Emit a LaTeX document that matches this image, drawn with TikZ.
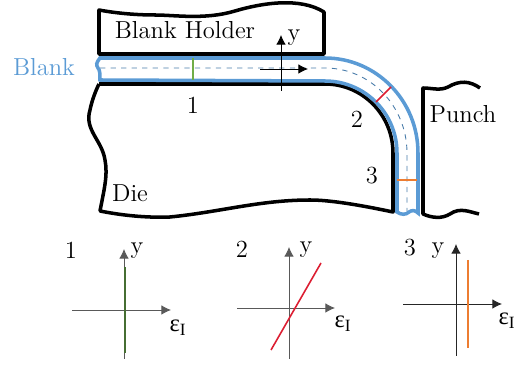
\documentclass[tikz,border=0pt]{standalone}
\usepackage{fontspec}
\usetikzlibrary{arrows.meta}
\newfontfamily\greekfont{Liberation Serif}
\definecolor{blankblue}{RGB}{91,155,213}
\definecolor{strainA}{RGB}{112,173,71}
\definecolor{strainB}{RGB}{220,30,50}
\definecolor{strainC}{RGB}{237,125,49}
\definecolor{strainAdark}{RGB}{70,110,50}
\tikzset{
    tool/.style={line width=2pt,black,line join=round},
    blank/.style={line width=2pt,blankblue},
    midline/.style={line width=0.5pt,blankblue!80!black,dashed},
    axis/.style={line width=0.5pt,black!65,-{Latex[length=5.5pt,width=5.5pt]}},
    lbl/.style={font=\fontsize{14}{16}\selectfont,inner sep=0pt,black},
    strain/.style={font=\greekfont\fontsize{14}{16}\selectfont,inner sep=0pt,black}
}
\begin{document}
\begin{tikzpicture}[x=0.02cm,y=0.02cm]
    \useasboundingbox (0,0) rectangle (515,365);
    % tools
    \draw[tool] (324,353) .. controls (300,368) and (262,362) .. (235,354)
        .. controls (205,345) and (175,350) .. (155,350)
        .. controls (135,350) and (115,352) .. (99,355)
        -- (99,311) -- (324,311) -- cycle;
    \draw[tool] (99,281) -- (325,281) arc[start angle=90,end angle=0,x radius=68,y radius=69]
        -- (393,153) .. controls (360,160) and (330,165) .. (310,165)
        .. controls (260,165) and (220,153) .. (170,148)
        .. controls (145,147) and (120,150) .. (100,154)
        .. controls (104,175) and (108,190) .. (105,205)
        .. controls (102,225) and (84,235) .. (90,255)
        .. controls (92,265) and (96,275) .. (99,281);
    \draw[tool] (480,277) .. controls (470,284) and (460,285) .. (448,278)
        .. controls (440,274) and (432,277) .. (423,277)
        -- (423,151) .. controls (432,147) and (442,146) .. (450,151)
        .. controls (460,158) and (470,153) .. (479,151);
    % blank
    \draw[blank] (325,307) -- (100,307)
        .. controls (96,302) and (96,300) .. (98,297)
        .. controls (100,295) and (100,290) .. (100,285)
        -- (325,284) arc[start angle=90,end angle=0,x radius=72,y radius=72]
        -- (397,153) .. controls (401,150) and (406,150) .. (409,153)
        .. controls (412,155) and (415,155) .. (418,152)
        -- (418,212);
    \draw[blank] (325,307) arc[start angle=90,end angle=0,x radius=93,y radius=95];
    \draw[midline] (100,297) -- (325,297) arc[start angle=90,end angle=0,x radius=82,y radius=85] -- (407,154);
    % cuts
    \draw[strainA,line width=0.9pt] (193,307) -- (193,285);
    \draw[strainB,line width=0.9pt] (376,263) -- (391,278);
    \draw[strainC,line width=0.9pt] (397,185) -- (417,185);
    % local axes
    \coordinate (yb) at (281,274);
    \coordinate (yt) at (281,330);
    \coordinate (xl) at (260,296);
    \coordinate (xr) at (308,296);
    \draw[axis,black] (yb) -- (yt);
    \draw[axis,black] (xl) -- (xr);
    \node[lbl] (yy) at (294,327) {y};
    \node[lbl,text=blankblue] (blanktext) at (44,298) {Blank};
    \node[lbl] (holder) at (185,335) {Blank Holder};
    \node[lbl] (punch) at (463,251) {Punch};
    \node[lbl] (die) at (130,172) {Die};
    \node[lbl] (one) at (193,260) {1};
    \node[lbl] (two) at (357,246) {2};
    \node[lbl] (three) at (372,189) {3};
    % plots
    \foreach \n/\xl/\xr/\xo/\yb/\yt/\yo/\gray in {1/72/171/124/6/116/55/65,2/237/335/289/6/118/57/65,3/403/502/456/9/121/61/85}{
        \coordinate (l\n) at (\xl,\yo);
        \coordinate (r\n) at (\xr,\yo);
        \coordinate (b\n) at (\xo,\yb);
        \coordinate (t\n) at (\xo,\yt);
        \draw[axis,black!\gray] (l\n) -- (r\n);
        \draw[axis,black!\gray] (b\n) -- (t\n);
    }
    \draw[strainAdark,line width=0.9pt] (125,98) -- (125,12);
    \draw[strainB,line width=0.9pt] (271,15) -- (321,102);
    \draw[strainC,line width=0.9pt] (468,105) -- (468,17);
    \node[lbl] (n1) at (71,115) {1};
    \node[lbl] (n2) at (242,116) {2};
    \node[lbl] (n3) at (410,117) {3};
    \node[lbl] (y1) at (137,114) {y};
    \node[lbl] (y2) at (306,115) {y};
    \node[lbl] (y3) at (438,114) {y};
    \node[strain] (e1) at (178,37) {ε\textsubscript{I}};
    \node[strain] (e2) at (343,41) {ε\textsubscript{I}};
    \node[strain] (e3) at (507,44) {ε\textsubscript{I}};
\end{tikzpicture}
\end{document}
